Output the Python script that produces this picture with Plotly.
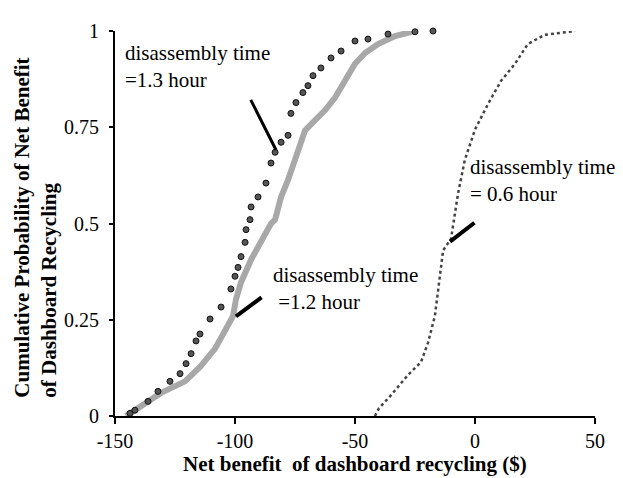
import plotly.graph_objects as go

# ---- data ----
x_13 = [-143.75, -141.7, -136.25, -132.1, -127.1, -122.9, -120.4, -118.3, -116.25, -114.6,
        -110.4, -105.8, -101.7, -100.0, -98.75, -97.5, -95.8, -95.4, -93.75, -93.3,
        -90.4, -87.1, -85.0, -83.3, -80.8, -77.9, -76.7, -74.6, -71.7, -69.6,
        -67.5, -64.2, -60.0, -55.8, -50.0, -44.6, -36.25, -25.0, -17.5]
y_13 = [0.007, 0.015, 0.038, 0.064, 0.090, 0.110, 0.136, 0.162, 0.195, 0.213,
        0.252, 0.283, 0.330, 0.363, 0.386, 0.414, 0.451, 0.484, 0.510, 0.543,
        0.569, 0.605, 0.657, 0.685, 0.711, 0.729, 0.786, 0.814, 0.840, 0.858,
        0.884, 0.904, 0.930, 0.948, 0.974, 0.979, 0.992, 0.998, 1.0]

x_12 = [-145.4, -130.8, -120.8, -114.2, -108.3, -104.2, -100.8, -99.6, -97.5, -93.3,
        -89.2, -85.0, -83.3, -80.8, -77.9, -75.0, -72.9, -70.8, -66.7, -62.5,
        -58.3, -54.2, -50.0, -45.8, -40.4, -33.3, -25.0]
y_12 = [0.0, 0.06, 0.09, 0.13, 0.175, 0.218, 0.26, 0.303, 0.347, 0.406,
        0.45, 0.50, 0.51, 0.569, 0.613, 0.665, 0.708, 0.742, 0.768, 0.794,
        0.827, 0.871, 0.915, 0.943, 0.966, 0.987, 1.0]

x_06 = [-41.7, -40.0, -35.0, -28.0, -22.5, -19.6, -16.7, -15.4, -13.3, -10.0,
        -7.0, -4.2, 0.0, 5.4, 10.8, 16.7, 22.0, 29.0, 41.7]
y_06 = [0.0, 0.02, 0.054, 0.106, 0.14, 0.19, 0.26, 0.33, 0.43, 0.46,
        0.58, 0.666, 0.744, 0.81, 0.87, 0.915, 0.966, 0.99, 1.0]

x_ticks = [-150, -100, -50, 0, 50]
x_ticktext = ["-150", "-100", "-50", "0", "50"]
y_ticks = [0, 0.25, 0.5, 0.75, 1]
y_ticktext = ["0", "0.25", "0.5", "0.75", "1"]

labels = ["disassembly time<br>=1.3 hour",
          "disassembly time<br> =1.2 hour",
          "disassembly time<br>= 0.6 hour"]

FONT = "Liberation Serif, Times New Roman, serif"

fig = go.Figure()
fig.add_trace(go.Scatter(x=x_12, y=y_12, mode="lines",
                         line=dict(color="#a8a8a8", width=6),
                         cliponaxis=False, showlegend=False))
fig.add_trace(go.Scatter(x=x_13, y=y_13, mode="markers",
                         marker=dict(symbol="circle", size=6, color="#555555",
                                     line=dict(color="#111111", width=1)),
                         cliponaxis=False, showlegend=False))
fig.add_trace(go.Scatter(x=x_06, y=y_06, mode="lines",
                         line=dict(color="#444444", width=2.5, dash="dot"),
                         cliponaxis=False, showlegend=False))

# text labels
text_pos = [(-146.5, 0.908), (-84.8, 0.33), (-2.8, 0.612)]
for (tx, ty), t in zip(text_pos, labels):
    fig.add_annotation(x=tx, y=ty, xref="x", yref="y", text=t, showarrow=False,
                       xanchor="left", yanchor="middle", align="left",
                       font=dict(family=FONT, size=21, color="black"))

# pointer lines (tail -> head)
pointers = [((-93.75, 0.825), (-82.9, 0.691), 3),
            ((-88.3, 0.311), (-99.6, 0.259), 4),
            ((0.4, 0.505), (-10.4, 0.453), 4)]
for (t0, t1), (h0, h1), w in pointers:
    fig.add_annotation(x=h0, y=h1, ax=t0, ay=t1, xref="x", yref="y",
                       axref="x", ayref="y", text="", showarrow=True,
                       arrowhead=0, arrowwidth=w, arrowcolor="black", standoff=0)

# axis titles
fig.add_annotation(x=-0.166, y=0.49, xref="paper", yref="paper",
                   text="<b>Cumulative Probability of Net Benefit<br>of Dashboard Recycling</b>",
                   textangle=-90, showarrow=False, align="left",
                   xanchor="center", yanchor="middle",
                   font=dict(family=FONT, size=21, color="black"))
fig.add_annotation(x=0.5, y=-0.125, xref="paper", yref="paper",
                   text="<b>Net benefit\u00a0 of dashboard recycling ($)</b>",
                   showarrow=False, xanchor="center", yanchor="middle",
                   font=dict(family=FONT, size=21, color="black"))

fig.update_xaxes(range=[-150, 50], tickvals=x_ticks, ticktext=x_ticktext,
                 showgrid=False, zeroline=False, showline=True, linecolor="black",
                 linewidth=2, ticks="outside", ticklen=6, tickwidth=2, tickcolor="black",
                 ticklabelstandoff=0,
                 tickfont=dict(family=FONT, size=20, color="black"))
fig.update_yaxes(range=[0, 1], tickvals=y_ticks, ticktext=y_ticktext,
                 showgrid=False, zeroline=False, showline=True, linecolor="black",
                 linewidth=2, ticks="outside", ticklen=4, tickwidth=1.5, tickcolor="black",
                 ticklabelstandoff=6,
                 tickfont=dict(family=FONT, size=20, color="black"))

fig.update_layout(width=623, height=478, margin=dict(l=107, r=36, t=20, b=70),
                  plot_bgcolor="white", paper_bgcolor="white", showlegend=False)

fig.write_html("out.html")
